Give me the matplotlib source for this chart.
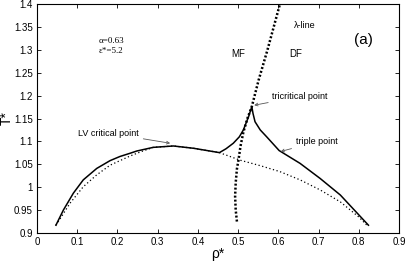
import matplotlib
matplotlib.use("Agg")
import matplotlib.pyplot as plt
import numpy as np

# Coexistence (solid) curve
solid_rho = [0.047, 0.0655, 0.0904, 0.115, 0.1485, 0.1816, 0.206, 0.231, 0.248, 0.289,
             0.339, 0.389, 0.4535, 0.47, 0.488, 0.503, 0.513, 0.526, 0.534, 0.537,
             0.542, 0.555, 0.571, 0.602, 0.654, 0.704, 0.754, 0.824]
solid_T = [0.917, 0.950, 0.987, 1.016, 1.041, 1.058, 1.067, 1.074, 1.079, 1.087,
           1.090, 1.085, 1.0755, 1.084, 1.096, 1.110, 1.125, 1.154, 1.176, 1.161,
           1.143, 1.125, 1.110, 1.080, 1.052, 1.019, 0.983, 0.917]

# Metastable liquid-vapour curve (thin dotted)
lv_rho = [0.047, 0.053, 0.082, 0.115, 0.1485, 0.1816, 0.231, 0.26, 0.289, 0.339,
          0.389, 0.4535, 0.505, 0.555, 0.604, 0.654, 0.704, 0.754, 0.80, 0.820]
lv_T = [0.917, 0.925, 0.965, 1.001, 1.027, 1.048, 1.068, 1.078, 1.087, 1.090,
        1.085, 1.0755, 1.059, 1.047, 1.034, 1.016, 0.994, 0.968, 0.935, 0.917]

# Lambda line (thick dotted)
lam_rho = [0.497, 0.494, 0.4925, 0.494, 0.497, 0.501, 0.506, 0.513, 0.523, 0.534, 0.551, 0.573, 0.604]
lam_T = [0.925, 0.95, 0.98, 1.01, 1.04, 1.06, 1.09, 1.12, 1.15, 1.176, 1.234, 1.30, 1.40]

xticks = [0, 0.1, 0.2, 0.3, 0.4, 0.5, 0.6, 0.7, 0.8, 0.9]
xticklabels = ["0", "0.1", "0.2", "0.3", "0.4", "0.5", "0.6", "0.7", "0.8", "0.9"]
yticks = [0.9, 0.95, 1.0, 1.05, 1.1, 1.15, 1.2, 1.25, 1.3, 1.35, 1.4]
yticklabels = ["0.9", "0.95", "1", "1.05", "1.1", "1.15", "1.2", "1.25", "1.3", "1.35", "1.4"]

plt.rcParams['font.family'] = ['Liberation Sans', 'DejaVu Sans']

fig = plt.figure(figsize=(4.09, 2.62), dpi=100)
ax = fig.add_axes([0.0905, 0.1107, 0.8851, 0.874])

ax.plot(lv_rho, lv_T, color='black', lw=0.9, linestyle=(0, (1, 2)))
ax.plot(solid_rho, solid_T, color='black', lw=1.1, solid_joinstyle='miter')
ax.plot(lam_rho, lam_T, color='black', lw=1.8, linestyle=(0, (0.8, 0.8)))

ax.set_xlim(0, 0.9)
ax.set_ylim(0.9, 1.4)
ax.set_xticks(xticks)
ax.set_xticklabels(xticklabels)
ax.set_yticks(yticks)
ax.set_yticklabels(yticklabels)
ax.tick_params(direction='in', top=True, right=True, length=3, width=0.6,
               labelsize=7, pad=3)
for s in ax.spines.values():
    s.set_linewidth(0.8)

ax.set_xlabel("ρ*", fontsize=10, labelpad=0)
ax.set_ylabel("T*", fontsize=10, va='center', ha='center')
ax.yaxis.set_label_coords(-0.083, 0.5)

ax.text(0.152, 1.319, "α=0.63", family=['Liberation Serif', 'DejaVu Serif'], fontsize=6.5, va='center')
ax.text(0.152, 1.297, "ε*=5.2", family=['Liberation Serif', 'DejaVu Serif'], fontsize=6.5, va='center')
ax.text(0.50, 1.291, "MF", fontsize=7, ha='center', va='center')
ax.text(0.642, 1.291, "DF", fontsize=7, ha='center', va='center')
ax.text(0.666, 1.353, "λ-line", fontsize=6.5, ha='center', va='center')
ax.text(0.812, 1.321, "(a)", fontsize=11, ha='center', va='center')

arrowprops = dict(arrowstyle='->', color='#555555', lw=0.6, shrinkA=1, shrinkB=0,
                  mutation_scale=5)
ax.annotate("tricritical point", xy=(0.540, 1.179), xytext=(0.585, 1.198),
            fontsize=6.5, va='center', ha='left', arrowprops=arrowprops)
ax.annotate("triple point", xy=(0.606, 1.078), xytext=(0.643, 1.099),
            fontsize=6.5, va='center', ha='left', arrowprops=arrowprops)
ax.annotate("LV critical point", xy=(0.331, 1.096), xytext=(0.103, 1.118),
            fontsize=6.5, va='center', ha='left', arrowprops=arrowprops)

fig.savefig("out.png", dpi=100)
